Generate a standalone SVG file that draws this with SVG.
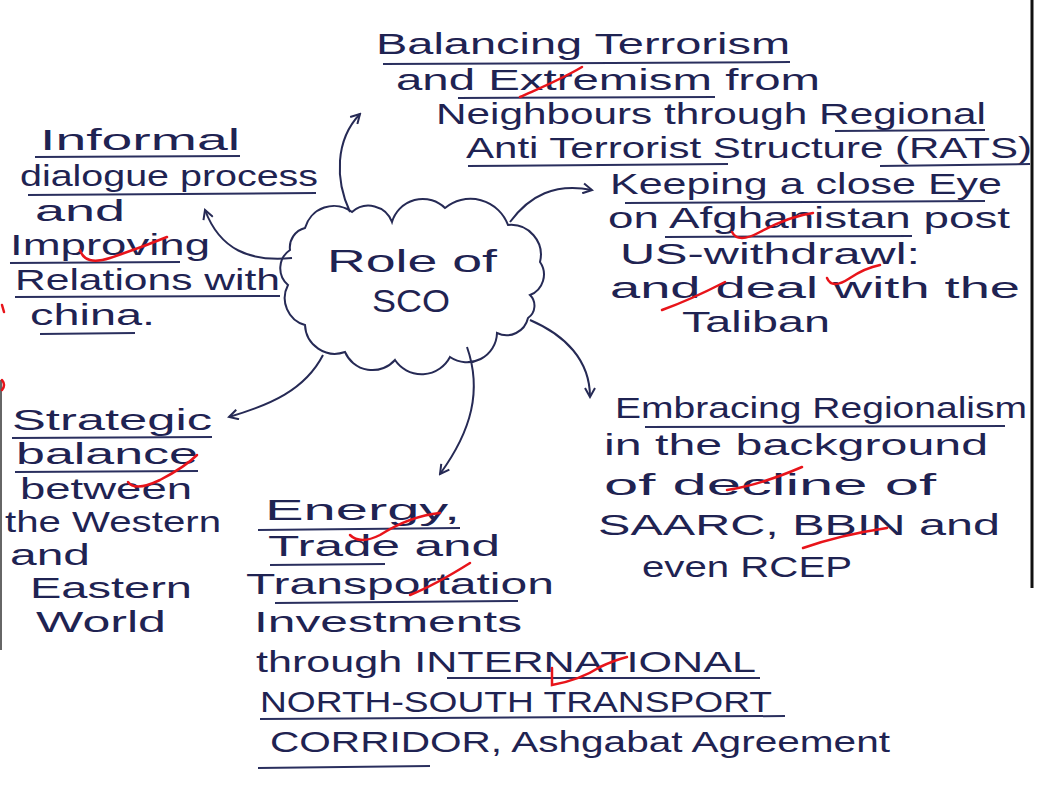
<svg xmlns="http://www.w3.org/2000/svg" width="1041" height="787" viewBox="0 0 1041 787">
<defs>
<style>
.t{font-family:"Liberation Sans",Arial,sans-serif;font-size:29px;fill:#1f2352}
.ul{stroke:#2a2f5e;stroke-width:2;fill:none}
.c{stroke:#262a55;stroke-width:2;fill:none;marker-end:url(#ah)}
.red{stroke:#e8141a;stroke-width:2.5;fill:none;stroke-linecap:round}
</style>
<marker id="ah" viewBox="0 0 12 12" refX="10" refY="6" markerWidth="12" markerHeight="12" markerUnits="userSpaceOnUse" orient="auto">
<path d="M1,1 L10,6 L1,11" fill="none" stroke="#262a55" stroke-width="2"/>
</marker>
</defs>
<rect width="1041" height="787" fill="#ffffff"/>
<line x1="1032" y1="0" x2="1032" y2="588" stroke="#111" stroke-width="3"/>
<line x1="1" y1="380" x2="1" y2="650" stroke="#333" stroke-width="1.5"/>

<g id="center">
<path d="M305,228 A30,30 0 0 1 352,212 A25,25 0 0 1 392,222 A32,32 0 0 1 445,208 A40,40 0 0 1 508,225 A30,30 0 0 1 540,262 A22,22 0 0 1 530,295 A15,15 0 0 1 528,318 A22,22 0 0 1 497,333 A30,30 0 0 1 450,357 A32,32 0 0 1 395,360 A30,30 0 0 1 345,352 A30,30 0 0 1 305,325 A28,28 0 0 1 288,285 A22,22 0 0 1 290,250 A20,20 0 0 1 305,228 Z" fill="none" stroke="#262a55" stroke-width="2"/>
<text class="t" x="327" y="272" textLength="170" lengthAdjust="spacingAndGlyphs" style="font-size:32px">Role of</text>
<text class="t" x="372" y="312" textLength="78" lengthAdjust="spacingAndGlyphs" style="font-size:32px">SCO</text>
</g>

<g id="connectors">
<path class="c" d="M350,212 C335,180 335,140 360,114"/>
<path class="c" d="M510,222 C530,195 555,183 592,190"/>
<path class="c" d="M292,258 C250,262 220,250 205,210"/>
<path class="c" d="M530,320 C565,335 590,360 590,397"/>
<path class="c" d="M467,347 C482,390 472,430 440,474"/>
<path class="c" d="M323,355 C305,390 270,405 229,417"/>
</g>

<g id="node-terrorism">
<text class="t" x="376" y="54" textLength="414" lengthAdjust="spacingAndGlyphs">Balancing Terrorism</text>
<text class="t" x="396" y="90" textLength="424" lengthAdjust="spacingAndGlyphs">and Extremism from</text>
<text class="t" x="436" y="124" textLength="550" lengthAdjust="spacingAndGlyphs">Neighbours through Regional</text>
<text class="t" x="466" y="158" textLength="566" lengthAdjust="spacingAndGlyphs">Anti Terrorist Structure (RATS)</text>
<path class="ul" d="M383,64 L790,62"/>
<path class="ul" d="M458,98 L715,97"/>
<path class="ul" d="M835,131 L985,130"/>
<path class="ul" d="M468,166 L728,164"/>
<path class="ul" d="M880,166 L1030,164"/>
</g>

<g id="node-afghanistan">
<text class="t" x="610" y="194" textLength="392" lengthAdjust="spacingAndGlyphs">Keeping a close Eye</text>
<text class="t" x="608" y="228" textLength="402" lengthAdjust="spacingAndGlyphs">on Afghanistan post</text>
<text class="t" x="620" y="264" textLength="300" lengthAdjust="spacingAndGlyphs">US-withdrawl:</text>
<text class="t" x="610" y="298" textLength="410" lengthAdjust="spacingAndGlyphs">and deal with the</text>
<text class="t" x="682" y="332" textLength="148" lengthAdjust="spacingAndGlyphs">Taliban</text>
<path class="ul" d="M625,203 L985,201"/>
<path class="ul" d="M665,237 L912,236"/>
</g>

<g id="node-china">
<text class="t" x="40" y="150" textLength="200" lengthAdjust="spacingAndGlyphs">Informal</text>
<text class="t" x="20" y="186" textLength="298" lengthAdjust="spacingAndGlyphs">dialogue process</text>
<text class="t" x="35" y="221" textLength="90" lengthAdjust="spacingAndGlyphs">and</text>
<text class="t" x="10" y="255" textLength="200" lengthAdjust="spacingAndGlyphs">Improving</text>
<text class="t" x="15" y="290" textLength="265" lengthAdjust="spacingAndGlyphs">Relations with</text>
<text class="t" x="30" y="325" textLength="125" lengthAdjust="spacingAndGlyphs">china.</text>
<path class="ul" d="M35,157 L240,156"/>
<path class="ul" d="M28,195 L316,193"/>
<path class="ul" d="M10,263 L180,262"/>
<path class="ul" d="M15,297 L280,296"/>
<path class="ul" d="M40,334 L135,333"/>
</g>

<g id="node-strategic">
<text class="t" x="12" y="430" textLength="200" lengthAdjust="spacingAndGlyphs">Strategic</text>
<text class="t" x="16" y="464" textLength="182" lengthAdjust="spacingAndGlyphs">balance</text>
<text class="t" x="20" y="499" textLength="172" lengthAdjust="spacingAndGlyphs">between</text>
<text class="t" x="5" y="532" textLength="216" lengthAdjust="spacingAndGlyphs">the Western</text>
<text class="t" x="10" y="565" textLength="80" lengthAdjust="spacingAndGlyphs">and</text>
<text class="t" x="30" y="598" textLength="162" lengthAdjust="spacingAndGlyphs">Eastern</text>
<text class="t" x="36" y="632" textLength="130" lengthAdjust="spacingAndGlyphs">World</text>
<path class="ul" d="M12,438 L212,437"/>
<path class="ul" d="M15,472 L198,471"/>
</g>

<g id="node-energy">
<text class="t" x="265" y="520" textLength="195" lengthAdjust="spacingAndGlyphs">Energy,</text>
<text class="t" x="268" y="556" textLength="232" lengthAdjust="spacingAndGlyphs">Trade and</text>
<text class="t" x="246" y="594" textLength="308" lengthAdjust="spacingAndGlyphs">Transportation</text>
<text class="t" x="254" y="632" textLength="268" lengthAdjust="spacingAndGlyphs">Investments</text>
<text class="t" x="256" y="672" textLength="500" lengthAdjust="spacingAndGlyphs">through INTERNATIONAL</text>
<text class="t" x="260" y="712" textLength="512" lengthAdjust="spacingAndGlyphs">NORTH-SOUTH TRANSPORT</text>
<text class="t" x="270" y="752" textLength="620" lengthAdjust="spacingAndGlyphs">CORRIDOR, Ashgabat Agreement</text>
<path class="ul" d="M258,530 L460,528"/>
<path class="ul" d="M270,565 L385,564"/>
<path class="ul" d="M275,603 L518,601"/>
<path class="ul" d="M447,678 L760,678"/>
<path class="ul" d="M260,719 L785,716"/>
<path class="ul" d="M258,768 L430,766"/>
</g>

<g id="node-regionalism">
<text class="t" x="615" y="418" textLength="412" lengthAdjust="spacingAndGlyphs">Embracing Regionalism</text>
<text class="t" x="604" y="455" textLength="384" lengthAdjust="spacingAndGlyphs">in the background</text>
<text class="t" x="604" y="495" textLength="332" lengthAdjust="spacingAndGlyphs">of decline of</text>
<text class="t" x="598" y="535" textLength="402" lengthAdjust="spacingAndGlyphs">SAARC, BBIN and</text>
<text class="t" x="642" y="577" textLength="210" lengthAdjust="spacingAndGlyphs">even RCEP</text>
<path class="ul" d="M645,427 L1005,426"/>
</g>

<g id="marks">
<path class="red" d="M520,97 C540,88 560,80 582,67"/>
<path class="red" d="M732,232 Q738,244 760,232 Q790,216 813,213"/>
<path class="red" d="M827,278 Q832,290 850,278 Q865,268 880,265"/>
<path class="red" d="M662,310 Q690,300 725,282"/>
<path class="red" d="M80,250 Q85,266 110,258 Q140,248 167,237"/>
<path class="red" d="M128,482 Q135,492 160,480 Q185,467 197,455"/>
<path class="red" d="M350,535 Q360,545 380,535 Q410,516 440,513"/>
<path class="red" d="M410,595 Q435,585 470,563"/>
<path class="red" d="M552,668 L552,685 Q580,680 600,667 Q615,660 627,657"/>
<path class="red" d="M727,490 Q760,485 802,467"/>
<path class="red" d="M803,548 Q840,535 887,528"/>
<path class="red" d="M2,305 L4,312"/>
<path class="red" d="M2,380 Q6,385 2,390"/>
</g>
</svg>
